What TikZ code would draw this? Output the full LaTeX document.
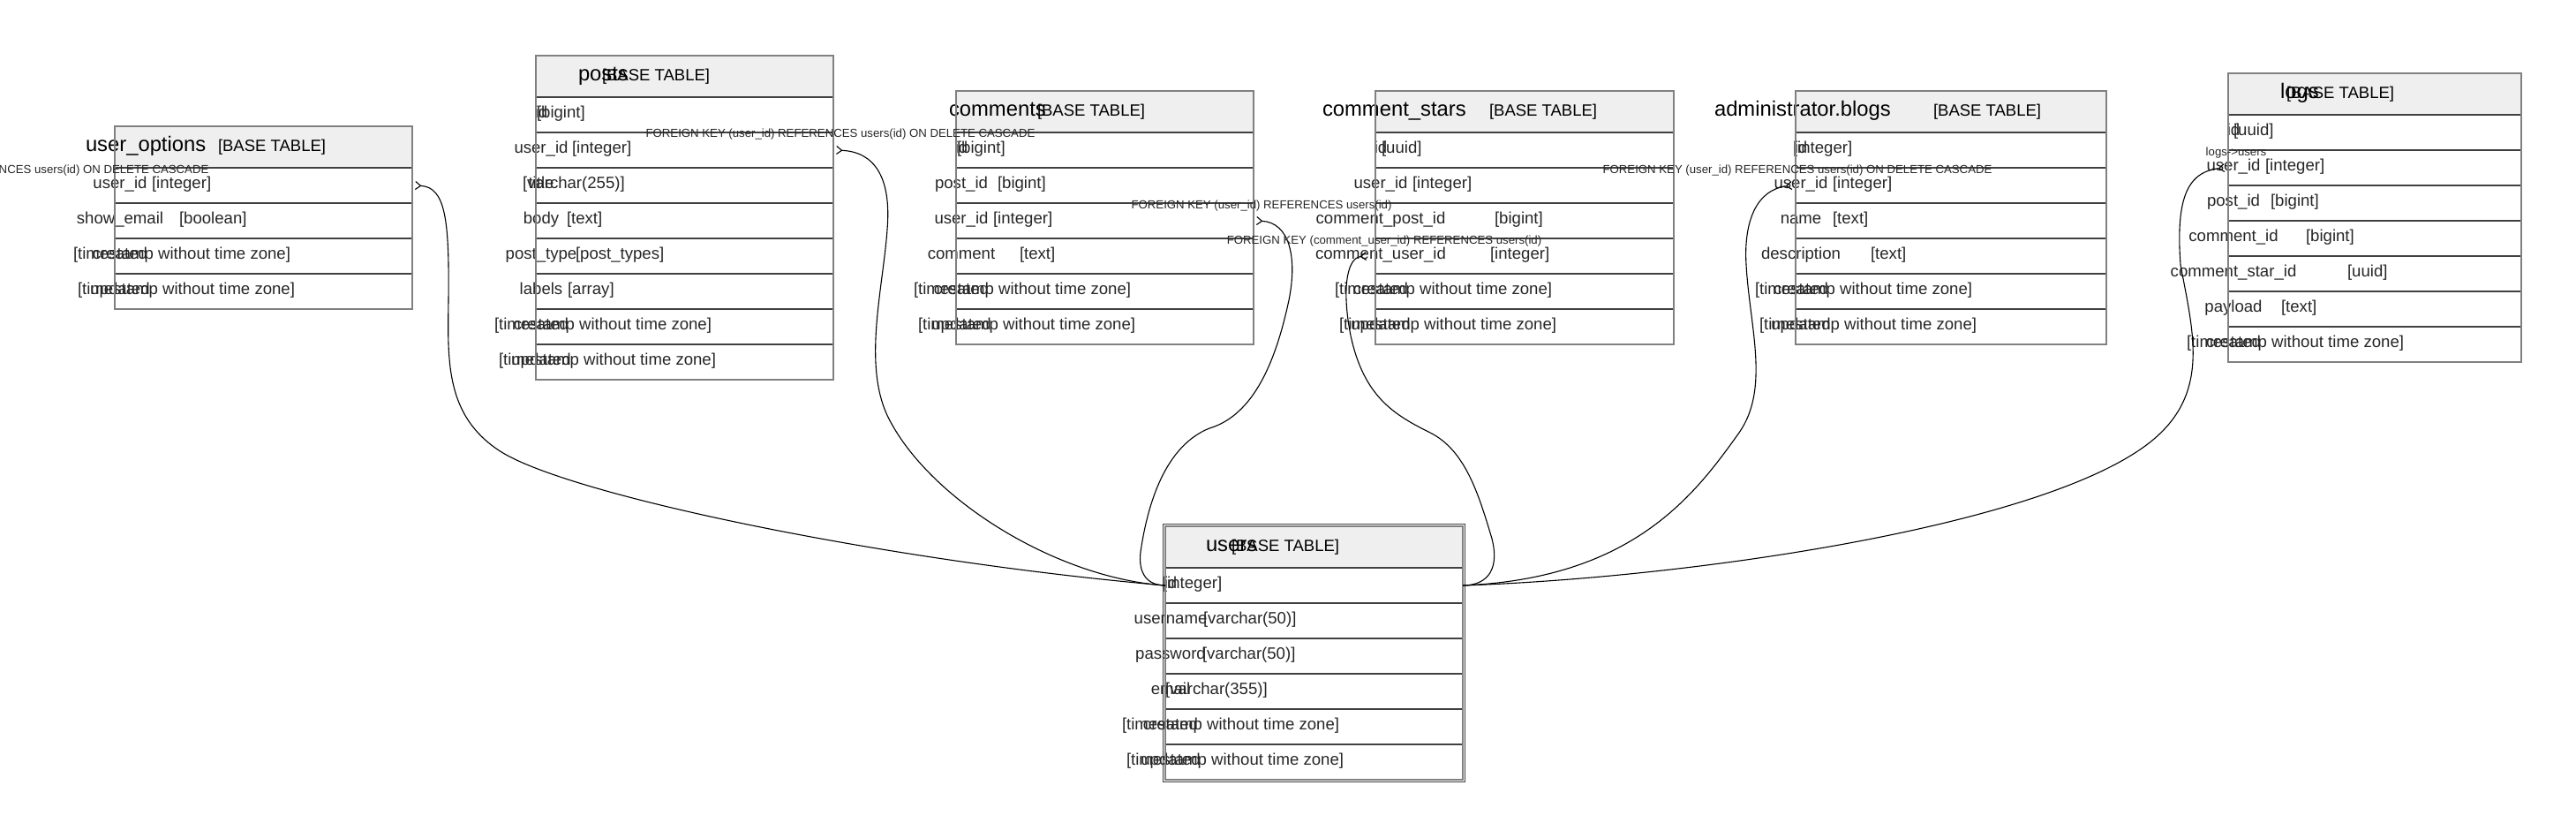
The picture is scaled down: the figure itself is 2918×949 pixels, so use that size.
\documentclass[tikz,border=0pt]{standalone}
\usepackage{fontspec}
\setmainfont{Liberation Sans}
\usetikzlibrary{positioning, arrows.meta}

\definecolor{headfill}{HTML}{EFEFEF}
\definecolor{framegray}{HTML}{808080}
\definecolor{rulegray}{HTML}{404040}
\definecolor{inkgray}{HTML}{262626}

\begin{document}
\begin{tikzpicture}[
    x=1pt, y=-1pt,
    every node/.style={inner sep=0pt, outer sep=0pt},
    tblhead/.style={anchor=north west, fill=headfill, minimum height=47pt},
    tblrow/.style={minimum height=40pt},
    frame/.style={draw=framegray, line width=1.5pt},
    rowline/.style={draw=rulegray, line width=2pt},
    tblname/.style={anchor=base west, yshift=-5pt, font=\fontsize{23.8}{28}\selectfont},
    tbltag/.style={anchor=base west, yshift=-5pt, font=\fontsize{18.5}{22}\selectfont},
    fname/.style={anchor=base, yshift=-3.8pt, text=inkgray, font=\fontsize{18.6}{22}\selectfont},
    ftype/.style={anchor=base west, yshift=-3.8pt, text=inkgray, font=\fontsize{18.6}{22}\selectfont},
    fklabel/.style={text=inkgray, font=\fontsize{13.2}{16}\selectfont},
    fk/.style={line width=1.1pt, -{Straight Barb[reversed, length=6pt, width=9pt]}}
]
\useasboundingbox (0,0) rectangle (2918,949);

% --- user_options ---
\node[tblhead, minimum width=337pt] (uo-0) at (130,143) {};
\node[tblname, xshift=-33pt] at (uo-0.west) {user\_options};
\node[tbltag, xshift=117pt] at (uo-0.west) {[BASE TABLE]};
\foreach \fn/\ft/\fx [count=\i, remember=\i as \j (initially 0)] in {user\_id/[integer]/42, show\_email/[boolean]/73, created/[timestamp without time zone]/-47, updated/[timestamp without time zone]/-42} {
    \node[tblrow, minimum width=337pt, below=0pt of uo-\j] (uo-\i) {};
    \draw[rowline] (uo-\i.north west) -- (uo-\i.north east);
    \node[fname, xshift=6pt] at (uo-\i.west) {\fn};
    \node[ftype, xshift=\fx pt] at (uo-\i.west) {\ft};
}
\draw[frame] (uo-0.north west) rectangle (uo-4.south east);

% --- posts ---
\node[tblhead, minimum width=337pt] (posts-0) at (607,63) {};
\node[tblname, xshift=48pt] at (posts-0.west) {posts};
\node[tbltag, xshift=75pt] at (posts-0.west) {[BASE TABLE]};
\foreach \fn/\ft/\fx [count=\i, remember=\i as \j (initially 0)] in {id/[bigint]/1, user\_id/[integer]/41, title/[varchar(255)]/-15, body/[text]/35, post\_type/[post\_types]/45, labels/[array]/36, created/[timestamp without time zone]/-47, updated/[timestamp without time zone]/-42} {
    \node[tblrow, minimum width=337pt, below=0pt of posts-\j] (posts-\i) {};
    \draw[rowline] (posts-\i.north west) -- (posts-\i.north east);
    \node[fname, xshift=6pt] at (posts-\i.west) {\fn};
    \node[ftype, xshift=\fx pt] at (posts-\i.west) {\ft};
}
\draw[frame] (posts-0.north west) rectangle (posts-8.south east);

% --- comments ---
\node[tblhead, minimum width=337pt] (comments-0) at (1083,103) {};
\node[tblname, xshift=-8pt] at (comments-0.west) {comments};
\node[tbltag, xshift=92pt] at (comments-0.west) {[BASE TABLE]};
\foreach \fn/\ft/\fx [count=\i, remember=\i as \j (initially 0)] in {id/[bigint]/1, post\_id/[bigint]/47, user\_id/[integer]/42, comment/[text]/72, created/[timestamp without time zone]/-48, updated/[timestamp without time zone]/-43} {
    \node[tblrow, minimum width=337pt, below=0pt of comments-\j] (comments-\i) {};
    \draw[rowline] (comments-\i.north west) -- (comments-\i.north east);
    \node[fname, xshift=6pt] at (comments-\i.west) {\fn};
    \node[ftype, xshift=\fx pt] at (comments-\i.west) {\ft};
}
\draw[frame] (comments-0.north west) rectangle (comments-6.south east);

% --- comment_stars ---
\node[tblhead, minimum width=338pt] (cstars-0) at (1558,103) {};
\node[tblname, xshift=-60pt] at (cstars-0.west) {comment\_stars};
\node[tbltag, xshift=129pt] at (cstars-0.west) {[BASE TABLE]};
\foreach \fn/\ft/\fx [count=\i, remember=\i as \j (initially 0)] in {id/[uuid]/7, user\_id/[integer]/42, comment\_post\_id/[bigint]/135, comment\_user\_id/[integer]/130, created/[timestamp without time zone]/-46, updated/[timestamp without time zone]/-41} {
    \node[tblrow, minimum width=338pt, below=0pt of cstars-\j] (cstars-\i) {};
    \draw[rowline] (cstars-\i.north west) -- (cstars-\i.north east);
    \node[fname, xshift=6pt] at (cstars-\i.west) {\fn};
    \node[ftype, xshift=\fx pt] at (cstars-\i.west) {\ft};
}
\draw[frame] (cstars-0.north west) rectangle (cstars-6.south east);

% --- administrator.blogs ---
\node[tblhead, minimum width=352pt] (blogs-0) at (2034,103) {};
\node[tblname, xshift=-92pt] at (blogs-0.west) {administrator.blogs};
\node[tbltag, xshift=156pt] at (blogs-0.west) {[BASE TABLE]};
\foreach \fn/\ft/\fx [count=\i, remember=\i as \j (initially 0)] in {id/[integer]/-3, user\_id/[integer]/42, name/[text]/42, description/[text]/85, created/[timestamp without time zone]/-46, updated/[timestamp without time zone]/-41} {
    \node[tblrow, minimum width=352pt, below=0pt of blogs-\j] (blogs-\i) {};
    \draw[rowline] (blogs-\i.north west) -- (blogs-\i.north east);
    \node[fname, xshift=6pt] at (blogs-\i.west) {\fn};
    \node[ftype, xshift=\fx pt] at (blogs-\i.west) {\ft};
}
\draw[frame] (blogs-0.north west) rectangle (blogs-6.south east);

% --- logs ---
\node[tblhead, minimum width=332pt] (logs-0) at (2524,83) {};
\node[tblname, xshift=59pt] at (logs-0.west) {logs};
\node[tbltag, xshift=66pt] at (logs-0.west) {[BASE TABLE]};
\foreach \fn/\ft/\fx [count=\i, remember=\i as \j (initially 0)] in {id/[uuid]/6, user\_id/[integer]/42, post\_id/[bigint]/48, comment\_id/[bigint]/88, comment\_star\_id/[uuid]/135, payload/[text]/60, created/[timestamp without time zone]/-47} {
    \node[tblrow, minimum width=332pt, below=0pt of logs-\j] (logs-\i) {};
    \draw[rowline] (logs-\i.north west) -- (logs-\i.north east);
    \node[fname, xshift=6pt] at (logs-\i.west) {\fn};
    \node[ftype, xshift=\fx pt] at (logs-\i.west) {\ft};
}
\draw[frame] (logs-0.north west) rectangle (logs-7.south east);

% --- users (double frame) ---
\node[tblhead, minimum width=337pt] (users-0) at (1320,596) {};
\node[tblname, xshift=46pt] at (users-0.west) {users};
\node[tbltag, xshift=75pt] at (users-0.west) {[BASE TABLE]};
\foreach \fn/\ft/\fx [count=\i, remember=\i as \j (initially 0)] in {id/[integer]/-3, username/[varchar(50)]/43, password/[varchar(50)]/42, email/[varchar(355)]/0, created/[timestamp without time zone]/-49, updated/[timestamp without time zone]/-44} {
    \node[tblrow, minimum width=337pt, below=0pt of users-\j] (users-\i) {};
    \draw[rowline] (users-\i.north west) -- (users-\i.north east);
    \node[fname, xshift=6pt] at (users-\i.west) {\fn};
    \node[ftype, xshift=\fx pt] at (users-\i.west) {\ft};
}
\draw[frame, line width=1.2pt] (users-0.north west) rectangle (users-6.south east);
\draw[rowline, line width=1.4pt] ([shift={(-2.5pt,2.5pt)}]users-0.north west) rectangle ([shift={(2.5pt,-2.5pt)}]users-6.south east);

% --- foreign keys to users.id ---
\draw[fk] (users-1.west) .. controls (1000,635) and (640,560) .. (565,510)
    .. controls (505,470) and (507,410) .. (508,340)
    .. controls (509,250) and (505,212) .. ([xshift=3pt]uo-1.east);
\draw[fk] (users-1.west) .. controls (1200,655) and (1060,570) .. (1010,480)
    .. controls (975,420) and (1000,330) .. (1005,260)
    .. controls (1010,200) and (990,172) .. ([xshift=3pt]posts-2.east);
\draw[fk] (users-1.west) .. controls (1300,663) and (1289,650) .. (1292,625)
    .. controls (1300,570) and (1320,505) .. (1370,485)
    .. controls (1420,470) and (1445,410) .. (1460,340)
    .. controls (1470,290) and (1460,252) .. ([xshift=3pt]comments-3.east);
\draw[fk] (users-1.east) .. controls (1680,663) and (1700,650) .. (1690,610)
    .. controls (1675,560) and (1660,510) .. (1620,490)
    .. controls (1580,470) and (1545,450) .. (1530,380)
    .. controls (1520,330) and (1525,292) .. ([xshift=-10pt]cstars-4.west);
\draw[fk] (users-1.east) .. controls (1850,655) and (1920,560) .. (1970,490)
    .. controls (2005,440) and (1982,370) .. (1978,300)
    .. controls (1975,250) and (1990,215) .. ([xshift=-4pt]blogs-2.west);
\draw[fk] (users-1.east) .. controls (1900,655) and (2300,600) .. (2430,505)
    .. controls (2505,450) and (2485,380) .. (2470,300)
    .. controls (2465,230) and (2475,195) .. ([xshift=-4pt]logs-2.west);

% labels of the keys
\node[fklabel] (fk-uo) at (16,193) {FOREIGN KEY (user\_id) REFERENCES users(id) ON DELETE CASCADE};
\node[fklabel] (fk-posts) at (952,152) {FOREIGN KEY (user\_id) REFERENCES users(id) ON DELETE CASCADE};
\node[fklabel] (fk-comments) at (1429,233) {FOREIGN KEY (user\_id) REFERENCES users(id)};
\node[fklabel] (fk-cstars) at (1568,273) {FOREIGN KEY (comment\_user\_id) REFERENCES users(id)};
\node[fklabel] (fk-blogs) at (2036,193) {FOREIGN KEY (user\_id) REFERENCES users(id) ON DELETE CASCADE};
\node[fklabel] (fk-logs) at (2533,173) {logs->users};

\end{tikzpicture}
\end{document}
